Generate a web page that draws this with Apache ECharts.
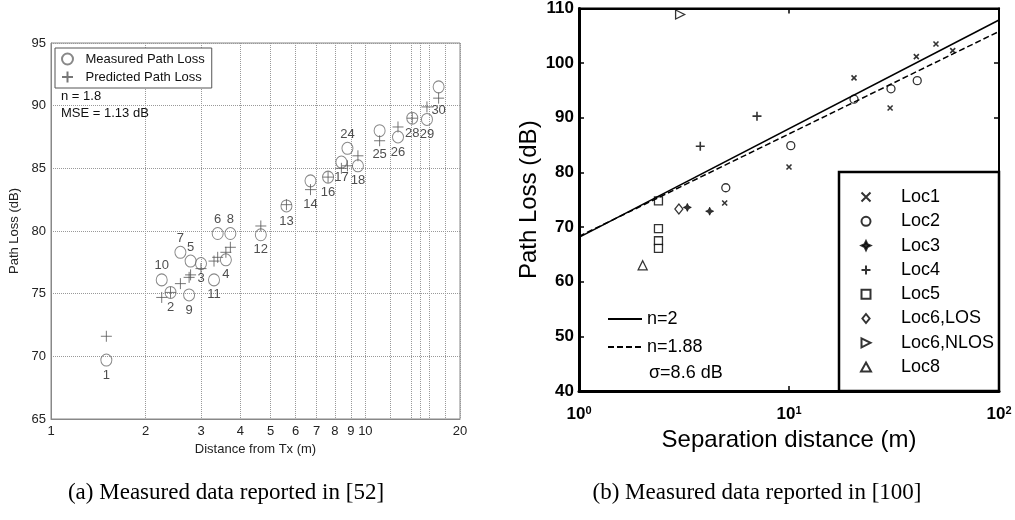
<!DOCTYPE html>
<html><head><meta charset="utf-8">
<script src="https://cdn.jsdelivr.net/npm/echarts@6/dist/echarts.min.js"></script>
<style>html,body{margin:0;padding:0;background:#fff}#c{width:1015px;height:520px}</style>
</head><body><div id="c"></div>
<script>
// ---------- Panel (a) data ----------
const pointIds      = [1,2,3,4,5,6,7,8,9,10,11,12,13,14,16,17,18,24,25,26,28,29,30];
const distances     = [1.50,2.40,3.00,3.60,2.78,3.39,2.58,3.72,2.75,2.25,3.30,4.65,5.61,6.69,7.61,8.39,9.47,8.77,11.1,12.7,14.1,15.7,17.1];
const measuredLoss  = [69.7,75.1,77.4,77.7,77.6,79.8,78.3,79.8,74.9,76.1,76.1,79.7,82.0,84.0,84.3,85.5,85.2,86.6,88.0,87.5,89.0,88.9,91.5];
const predictedLoss = [71.6,75.1,77.0,78.3,76.5,77.9,75.8,78.7,76.3,74.7,77.6,80.4,82.1,83.3,84.3,85.0,86.0,85.2,87.2,88.3,89.0,89.9,90.6];
const leftXTicks = [1,2,3,4,5,6,7,8,9,10,20];
const leftXGrid  = [1,2,3,4,5,6,7,8,9,10,12,14,15,16,18,20];

// ---------- Panel (b) data ----------
const loc1 = [[4.94,74.4],[10.0,81.0],[20.4,97.3],[30.3,91.8],[40.4,101.2],[50.1,103.5],[60.2,102.3]];
const loc2 = [[5.0,77.2],[10.2,84.9],[20.4,93.4],[30.6,95.3],[40.8,96.8]];
const loc3 = [[3.28,73.6],[4.19,72.9]];
const loc4 = [[3.78,84.8],[7.04,90.3]];
const loc5 = [[2.39,74.8],[2.39,69.7],[2.39,67.5],[2.39,66.1]];
const loc6los  = [[2.99,73.3]];
const loc6nlos = [[3.03,108.9]];
const loc8 = [[2.01,63.0]];
const fitN2   = [[1,68.1],[100,107.9]];
const fitN188 = [[1,68.3],[100,105.8]];

// ---------- styles ----------
const FONT = 'Liberation Sans';
const plusPath = 'path://M5,0 L5,10 M0,5 L10,5';
const xPath = 'path://M0,0 L10,10 M0,10 L10,0';
const starPath = 'path://M5,0 L6.6,3.4 L10,5 L6.6,6.6 L5,10 L3.4,6.6 L0,5 L3.4,3.4 Z';
const rTriPath = 'path://M0,0 L10,5 L0,10 Z';
const squarePath = 'path://M0,0 L10,0 L10,10 L0,10 Z';
const diamondPath = 'path://M4,0 L8,5 L4,10 L0,5 Z';
const triPath = 'path://M5,0 L10,9 L0,9 Z';
const labelAbove = new Set([5,6,7,8,10,24]);
const labelFar = new Set([14,25,30]);

function labelFor(id){
  if (labelAbove.has(id)) return {position:'top', distance:1};
  if (labelFar.has(id)) return {position:'bottom', distance:11};
  return {position:'bottom', distance:2};
}

const measuredData = distances.map((d,i)=>({value:[d, measuredLoss[i]], label: labelFor(pointIds[i])}));
const predictedData = distances.map((d,i)=>[d, predictedLoss[i]]);

const openBlack = {color:'#fff', borderColor:'#000', borderWidth:1.3};
const locBase = {type:'scatter', xAxisIndex:1, yAxisIndex:1};

const chart = echarts.init(document.getElementById('c'));
chart.setOption({
  animation:false,
  backgroundColor:'#fff',
  textStyle:{fontFamily:FONT},
  grid:[
    {left:51, top:43, width:409, height:376, show:true, borderColor:'#888', borderWidth:1},
    {left:579, top:8, width:420, height:383, show:true, borderColor:'#000', borderWidth:2}
  ],
  xAxis:[
    {gridIndex:0, type:'log', logBase:10, min:1, max:20,
     name:'Distance from Tx (m)', nameLocation:'middle', nameGap:24,
     nameTextStyle:{fontSize:13, color:'#222', fontFamily:FONT},
     axisLine:{show:true, lineStyle:{color:'#888'}},
     axisTick:{show:false, customValues:leftXGrid},
     axisLabel:{customValues:leftXTicks, fontSize:13, color:'#222', margin:6, formatter:v=>String(Math.round(v))},
     splitLine:{show:true, lineStyle:{color:'#999', type:'dotted'}}},
    {gridIndex:1, type:'log', logBase:10, min:1, max:100,
     name:'Separation distance (m)', nameLocation:'middle', nameGap:37,
     nameTextStyle:{fontSize:24, color:'#000', fontFamily:FONT},
     axisLine:{show:true, onZero:false, lineStyle:{color:'#000', width:3}},
     axisTick:{show:true, inside:true, length:5, lineStyle:{color:'#000', width:1.5}},
     axisLabel:{margin:14, formatter:v=>'{b|10}{s|'+Math.round(Math.log10(v))+'}',
       rich:{b:{fontSize:17, fontWeight:'bold', color:'#000', fontFamily:FONT},
             s:{fontSize:11, fontWeight:'bold', color:'#000', fontFamily:FONT, verticalAlign:'top', padding:[0,0,8,0]}}},
     splitLine:{show:false}, minorTick:{show:false}},
    {gridIndex:1, type:'log', logBase:10, min:1, max:100, position:'top',
     axisLine:{show:true, onZero:false, lineStyle:{color:'#000', width:2}},
     axisTick:{show:true, inside:true, length:5, lineStyle:{color:'#000', width:1.5}},
     axisLabel:{show:false}, splitLine:{show:false}}
  ],
  yAxis:[
    {gridIndex:0, type:'value', min:65, max:95, interval:5,
     name:'Path Loss (dB)', nameLocation:'middle', nameGap:30,
     nameTextStyle:{fontSize:13, color:'#222', fontFamily:FONT},
     axisLine:{show:true, lineStyle:{color:'#888'}}, axisTick:{show:false},
     axisLabel:{fontSize:13, color:'#222', margin:5},
     splitLine:{show:true, lineStyle:{color:'#999', type:'dotted'}}},
    {gridIndex:1, type:'value', min:40, max:110, interval:10,
     name:'Path Loss (dB)', nameLocation:'middle', nameGap:33,
     nameTextStyle:{fontSize:24, color:'#000', fontFamily:FONT},
     axisLine:{show:true, onZero:false, lineStyle:{color:'#000', width:3}},
     axisTick:{show:true, inside:true, length:5, lineStyle:{color:'#000', width:1.5}},
     axisLabel:{fontSize:17, fontWeight:'bold', color:'#000', margin:5},
     splitLine:{show:false}},
    {gridIndex:1, type:'value', min:40, max:110, interval:10, position:'right',
     axisLine:{show:true, onZero:false, lineStyle:{color:'#000', width:2}},
     axisTick:{show:true, inside:true, length:5, lineStyle:{color:'#000', width:1.5}},
     axisLabel:{show:false}, splitLine:{show:false}}
  ],
  legend:[
    {left:55, top:48, orient:'vertical', padding:[3,7,3,6], itemGap:2,
     itemWidth:26, itemHeight:11, borderColor:'#555', borderWidth:1, backgroundColor:'#fff',
     textStyle:{fontSize:13, color:'#111', fontFamily:FONT, lineHeight:16},
     data:['Measured Path Loss','Predicted Path Loss'], selectedMode:false},
    {left:860, top:188, orient:'vertical', padding:0, itemGap:6.3,
     itemWidth:60, itemHeight:9, z:20,
     textStyle:{fontSize:18, color:'#000', fontFamily:FONT, lineHeight:18},
     data:['Loc1','Loc2','Loc3','Loc4','Loc5','Loc6,LOS','Loc6,NLOS','Loc8'], selectedMode:false},
    {left:607, top:310, orient:'vertical', padding:0, itemGap:10,
     itemWidth:34, itemHeight:10, itemStyle:{opacity:0},
     textStyle:{fontSize:18, color:'#000', fontFamily:FONT, lineHeight:18},
     data:['n=2','n=1.88'], selectedMode:false}
  ],
  graphic:[
    {type:'text', left:61, top:90, style:{text:'n = 1.8', fontSize:13, fill:'#111', fontFamily:FONT}},
    {type:'text', left:61, top:107, style:{text:'MSE = 1.13 dB', fontSize:13, fill:'#111', fontFamily:FONT}},
    {type:'rect', z:10, shape:{x:839, y:172, width:160, height:219}, style:{fill:'#fff', stroke:'#000', lineWidth:2.5}},
    {type:'text', left:649, top:364, style:{text:'σ=8.6 dB', fontSize:18, fill:'#000', fontFamily:FONT}},
    {type:'text', x:226, y:493, style:{text:'(a) Measured data reported in [52]', fontSize:23, fill:'#000', fontFamily:'Liberation Serif', align:'center', verticalAlign:'middle'}},
    {type:'text', x:757, y:493, style:{text:'(b) Measured data reported in [100]', fontSize:23, fill:'#000', fontFamily:'Liberation Serif', align:'center', verticalAlign:'middle'}}
  ],
  series:[
    {name:'Measured Path Loss', type:'scatter', xAxisIndex:0, yAxisIndex:0, symbol:'circle', symbolSize:[11,12],
     itemStyle:{color:'transparent', borderColor:'#6a6a6a', borderWidth:1},
     label:{show:true, fontSize:13, color:'#222', fontFamily:FONT, formatter:p=>String(pointIds[p.dataIndex])},
     data:measuredData},
    {name:'Predicted Path Loss', type:'scatter', xAxisIndex:0, yAxisIndex:0, symbol:plusPath, symbolSize:11,
     itemStyle:{color:'transparent', borderColor:'#555', borderWidth:1}, data:predictedData},
    {name:'n=2', type:'line', xAxisIndex:1, yAxisIndex:1, symbol:'none', showSymbol:false,
     lineStyle:{color:'#000', width:1.5, type:'solid'}, itemStyle:{color:'#000'}, data:fitN2},
    {name:'n=1.88', type:'line', xAxisIndex:1, yAxisIndex:1, symbol:'none', showSymbol:false,
     lineStyle:{color:'#000', width:1.5, type:[6,3]}, itemStyle:{color:'#000'}, data:fitN188},
    Object.assign({name:'Loc1', symbol:xPath, symbolSize:5, itemStyle:{color:'#000', borderColor:'#000', borderWidth:1.6}, data:loc1}, locBase),
    Object.assign({name:'Loc2', symbol:'circle', symbolSize:8, itemStyle:openBlack, data:loc2}, locBase),
    Object.assign({name:'Loc3', symbol:starPath, symbolSize:8, itemStyle:{color:'#000', borderColor:'#000', borderWidth:0.8}, data:loc3}, locBase),
    Object.assign({name:'Loc4', symbol:plusPath, symbolSize:9, itemStyle:{color:'#000', borderColor:'#000', borderWidth:1.6}, data:loc4}, locBase),
    Object.assign({name:'Loc5', symbol:squarePath, symbolSize:8, itemStyle:openBlack, data:loc5}, locBase),
    Object.assign({name:'Loc6,LOS', symbol:diamondPath, symbolSize:[8,10], itemStyle:openBlack, data:loc6los}, locBase),
    Object.assign({name:'Loc6,NLOS', symbol:rTriPath, symbolSize:9, itemStyle:openBlack, data:loc6nlos}, locBase),
    Object.assign({name:'Loc8', symbol:triPath, symbolSize:9, itemStyle:openBlack, data:loc8}, locBase)
  ]
});
</script></body></html>
